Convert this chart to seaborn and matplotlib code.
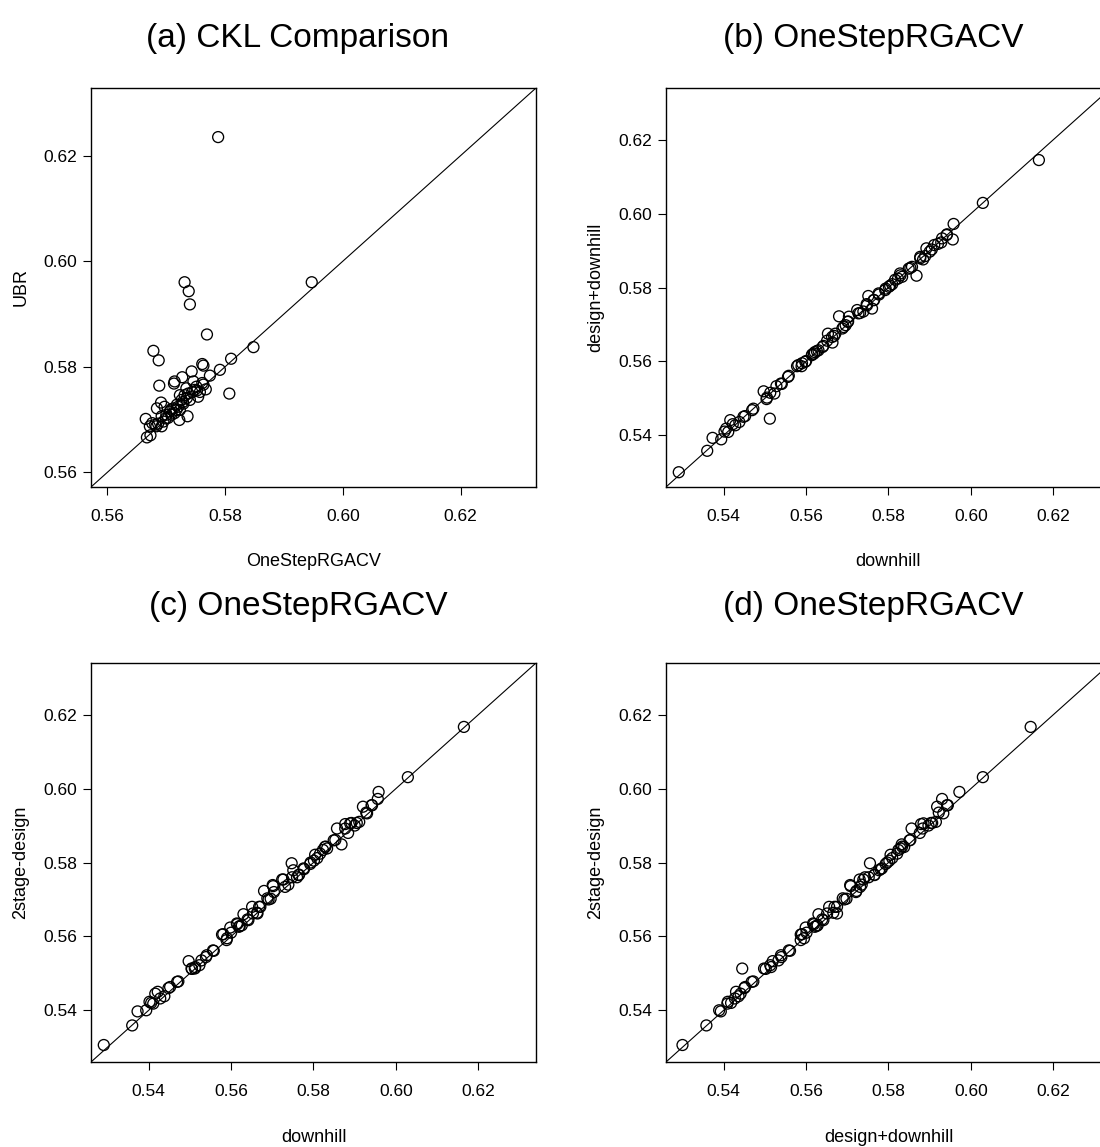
import matplotlib
matplotlib.use("Agg")
import matplotlib.pyplot as plt
import seaborn as sns

# ---------------- data ----------------
# panel (a): CKL comparison
onestep_rgacv = [0.5788, 0.5731, 0.5738, 0.5740, 0.5947, 0.5769, 0.5848, 0.5678, 0.5687, 0.5810,
                 0.5791, 0.5807, 0.5761, 0.5763, 0.5774, 0.5743, 0.5727, 0.5714, 0.5713, 0.5688,
                 0.5746, 0.5761, 0.5767, 0.5748, 0.5734, 0.5723, 0.5754, 0.5740, 0.5729, 0.5720,
                 0.5712, 0.5691, 0.5684, 0.5697, 0.5706, 0.5700, 0.5714, 0.5723, 0.5736, 0.5722,
                 0.5692, 0.5695, 0.5686, 0.5676, 0.5665, 0.5672, 0.5683, 0.5692, 0.5667, 0.5673,
                 0.5703, 0.5709, 0.5717, 0.5726, 0.5731, 0.5737, 0.5751, 0.5757, 0.5763, 0.5735,
                 0.5744, 0.5718, 0.5708, 0.5699, 0.5681, 0.5728, 0.5752]
ubr = [0.6235, 0.5960, 0.5943, 0.5918, 0.5960, 0.5861, 0.5837, 0.5830, 0.5812, 0.5815,
       0.5794, 0.5749, 0.5805, 0.5802, 0.5783, 0.5791, 0.5780, 0.5772, 0.5768, 0.5764,
       0.5772, 0.5769, 0.5757, 0.5756, 0.5759, 0.5746, 0.5743, 0.5737, 0.5730, 0.5724,
       0.5721, 0.5732, 0.5721, 0.5724, 0.5715, 0.5709, 0.5712, 0.5718, 0.5706, 0.5699,
       0.5706, 0.5696, 0.5692, 0.5693, 0.5701, 0.5687, 0.5687, 0.5687, 0.5666, 0.5670,
       0.5703, 0.5709, 0.5718, 0.5737, 0.5746, 0.5749, 0.5762, 0.5752, 0.5766, 0.5741,
       0.5752, 0.5728, 0.5719, 0.5702, 0.5690, 0.5733, 0.5755]

# panels (b)-(d): OneStepRGACV under three search strategies
downhill = [0.5291, 0.5360, 0.5373, 0.5394, 0.5402, 0.5406, 0.5411, 0.5416, 0.5422, 0.5428,
            0.5438, 0.5448, 0.5452, 0.5469, 0.5472, 0.5497, 0.5504, 0.5505, 0.5512, 0.5513,
            0.5523, 0.5528, 0.5539, 0.5541, 0.5556, 0.5558, 0.5578, 0.5581, 0.5589, 0.5590,
            0.5598, 0.5600, 0.5614, 0.5615, 0.5619, 0.5621, 0.5626, 0.5630, 0.5640, 0.5642,
            0.5651, 0.5653, 0.5663, 0.5664, 0.5668, 0.5671, 0.5680, 0.5688, 0.5691, 0.5696,
            0.5701, 0.5702, 0.5704, 0.5724, 0.5727, 0.5731, 0.5739, 0.5747, 0.5748, 0.5751,
            0.5760, 0.5764, 0.5765, 0.5776, 0.5777, 0.5792, 0.5793, 0.5801, 0.5804, 0.5809,
            0.5816, 0.5823, 0.5828, 0.5829, 0.5833, 0.5849, 0.5853, 0.5857, 0.5868, 0.5877,
            0.5877, 0.5884, 0.5889, 0.5892, 0.5900, 0.5905, 0.5911, 0.5920, 0.5928, 0.5930,
            0.5941, 0.5942, 0.5956, 0.5958, 0.6029, 0.6165]
design_downhill = [0.5300, 0.5358, 0.5393, 0.5389, 0.5410, 0.5418, 0.5409, 0.5441, 0.5430, 0.5427,
                   0.5436, 0.5450, 0.5452, 0.5468, 0.5472, 0.5519, 0.5498, 0.5502, 0.5445, 0.5515,
                   0.5513, 0.5533, 0.5540, 0.5539, 0.5558, 0.5561, 0.5587, 0.5590, 0.5587, 0.5595,
                   0.5599, 0.5601, 0.5617, 0.5619, 0.5621, 0.5625, 0.5628, 0.5630, 0.5639, 0.5642,
                   0.5656, 0.5675, 0.5666, 0.5651, 0.5669, 0.5675, 0.5722, 0.5689, 0.5693, 0.5698,
                   0.5707, 0.5708, 0.5721, 0.5739, 0.5730, 0.5731, 0.5735, 0.5755, 0.5752, 0.5777,
                   0.5743, 0.5766, 0.5766, 0.5784, 0.5781, 0.5793, 0.5797, 0.5802, 0.5805, 0.5809,
                   0.5821, 0.5824, 0.5838, 0.5833, 0.5829, 0.5851, 0.5853, 0.5856, 0.5832, 0.5883,
                   0.5879, 0.5876, 0.5885, 0.5906, 0.5897, 0.5903, 0.5915, 0.5918, 0.5922, 0.5933,
                   0.5942, 0.5944, 0.5930, 0.5972, 0.6029, 0.6145]
two_stage_design = [0.5306, 0.5359, 0.5397, 0.5400, 0.5423, 0.5420, 0.5418, 0.5445, 0.5450, 0.5432,
                    0.5438, 0.5460, 0.5463, 0.5477, 0.5478, 0.5533, 0.5513, 0.5512, 0.5513, 0.5517,
                    0.5522, 0.5535, 0.5544, 0.5549, 0.5562, 0.5561, 0.5605, 0.5606, 0.5590, 0.5595,
                    0.5624, 0.5610, 0.5635, 0.5633, 0.5626, 0.5628, 0.5630, 0.5660, 0.5646, 0.5644,
                    0.5680, 0.5662, 0.5664, 0.5662, 0.5680, 0.5680, 0.5723, 0.5703, 0.5700, 0.5702,
                    0.5739, 0.5736, 0.5720, 0.5754, 0.5754, 0.5734, 0.5740, 0.5798, 0.5760, 0.5779,
                    0.5760, 0.5766, 0.5767, 0.5784, 0.5782, 0.5796, 0.5800, 0.5805, 0.5821, 0.5812,
                    0.5824, 0.5834, 0.5842, 0.5843, 0.5838, 0.5860, 0.5861, 0.5892, 0.5849, 0.5892,
                    0.5904, 0.5880, 0.5906, 0.5907, 0.5900, 0.5907, 0.5910, 0.5951, 0.5935, 0.5933,
                    0.5955, 0.5955, 0.5972, 0.5991, 0.6031, 0.6167]

titles = ["(a) CKL Comparison", "(b) OneStepRGACV", "(c) OneStepRGACV", "(d) OneStepRGACV"]
xlabels = ["OneStepRGACV", "downhill", "downhill", "design+downhill"]
ylabels = ["UBR", "design+downhill", "2stage-design", "2stage-design"]
ticks_a = [0.56, 0.58, 0.60, 0.62]
ticks_bcd = [0.54, 0.56, 0.58, 0.60, 0.62]
lim_a = (0.5572, 0.6328)
lim_bcd = (0.526, 0.634)

# ---------------- style ----------------
sns.set_style("ticks")
plt.rcParams["font.family"] = ["Liberation Sans", "DejaVu Sans"]
plt.rcParams["text.color"] = "black"
plt.rcParams["axes.labelcolor"] = "black"
plt.rcParams["xtick.color"] = "black"
plt.rcParams["ytick.color"] = "black"

W, H = 1100, 1147
fig = plt.figure(figsize=(W / 100, H / 100), dpi=100)

panels = [
    dict(x=onestep_rgacv, y=ubr, lim=lim_a, ticks=ticks_a, left=91, top=88, tpos=(298, 38)),
    dict(x=downhill, y=design_downhill, lim=lim_bcd, ticks=ticks_bcd, left=666, top=88, tpos=(873, 38)),
    dict(x=downhill, y=two_stage_design, lim=lim_bcd, ticks=ticks_bcd, left=91, top=663, tpos=(298, 606)),
    dict(x=design_downhill, y=two_stage_design, lim=lim_bcd, ticks=ticks_bcd, left=666, top=663, tpos=(873, 606)),
]

AW, AH = 445, 399
for i, p in enumerate(panels):
    ax = fig.add_axes([p["left"] / W, 1 - (p["top"] + AH) / H, AW / W, AH / H])
    sns.scatterplot(x=p["x"], y=p["y"], ax=ax, s=62, marker="o",
                    facecolor="none", edgecolor="black", linewidth=0.95, legend=False)
    lo, hi = p["lim"]
    ax.axline((lo, lo), (hi, hi), color="black", lw=0.8)
    ax.set_xlim(lo, hi)
    ax.set_ylim(lo, hi)
    ax.set_xticks(p["ticks"])
    ax.set_yticks(p["ticks"])
    ax.set_xticklabels([f"{t:.2f}" for t in p["ticks"]])
    ax.set_yticklabels([f"{t:.2f}" for t in p["ticks"]])
    ax.tick_params(direction="out", length=5.5, width=0.8, labelsize=12.5,
                   colors="black", labelcolor="black")
    ax.tick_params(axis="x", pad=10.5)
    ax.tick_params(axis="y", pad=4.5)
    for sp in ax.spines.values():
        sp.set_linewidth(1.0)
        sp.set_color("black")
        sp.set_visible(True)
    ax.set_xlabel(xlabels[i], fontsize=13, va="center", color="black")
    ax.set_ylabel(ylabels[i], fontsize=13, va="center", color="black")
    ax.xaxis.set_label_coords(0.5, -75 / AH)
    ax.yaxis.set_label_coords(-70 / AW, 0.5)
    fig.text(p["tpos"][0] / W, 1 - p["tpos"][1] / H, titles[i],
             ha="center", va="center", fontsize=24, color="black")

fig.savefig("out.png", dpi=100)
